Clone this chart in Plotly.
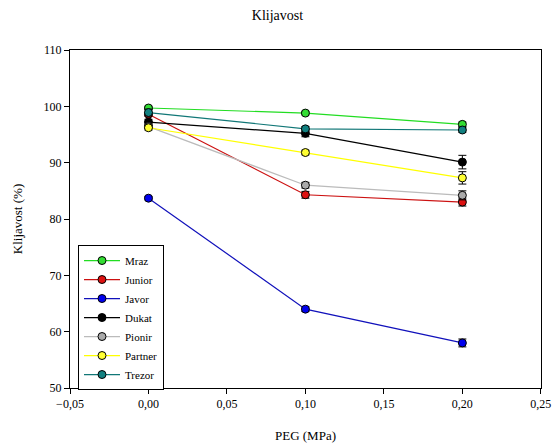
import plotly.graph_objects as go

# PEG concentration (MPa)
peg = [0.0, 0.1, 0.2]

# Germination (%) per variety, with standard errors
series = ["Mraz", "Junior", "Javor", "Dukat", "Pionir", "Partner", "Trezor"]
mraz = [99.7, 98.8, 96.8]
junior = [98.6, 84.3, 83.0]
javor = [83.7, 64.0, 58.0]
dukat = [97.2, 95.2, 90.1]
pionir = [96.4, 86.0, 84.2]
partner = [96.2, 91.8, 87.3]
trezor = [98.9, 96.0, 95.8]

mraz_err = [0.3, 0.3, 0.4]
junior_err = [0.3, 0.6, 0.7]
javor_err = [0.3, 0.4, 0.7]
dukat_err = [0.5, 0.6, 1.2]
pionir_err = [0.3, 0.5, 0.8]
partner_err = [0.4, 0.4, 1.1]
trezor_err = [0.6, 0.4, 0.4]

values = [mraz, junior, javor, dukat, pionir, partner, trezor]
errors = [mraz_err, junior_err, javor_err, dukat_err, pionir_err, partner_err, trezor_err]
colors = ["#22dd22", "#cc1111", "#1111bb", "#000000", "#bbbbbb", "#ffff00", "#117777"]
marker_fill = ["#33dd33", "#dd1111", "#0000ee", "#000000", "#aaaaaa", "#ffff33", "#118080"]

SERIF = "Liberation Serif, Times New Roman, serif"
tick_font = dict(family=SERIF, size=12, color="black")
title_font = dict(family=SERIF, size=13, color="black")

fig = go.Figure()
for name, y, e, c, mf in zip(series, values, errors, colors, marker_fill):
    fig.add_trace(go.Scatter(
        x=peg, y=y, name=name, mode="lines+markers",
        line=dict(color=c, width=1.2),
        marker=dict(size=8, color=mf, line=dict(color="black", width=1)),
        error_y=dict(type="data", array=e, visible=True, color="black",
                     thickness=1, width=4),
    ))

fig.update_layout(
    width=555, height=444,
    margin=dict(l=70, r=14, t=50, b=56),
    paper_bgcolor="white", plot_bgcolor="white",
    separators=",.",
    font=dict(family=SERIF, size=11, color="black"),
    title=dict(text="Klijavost", x=0.5, xanchor="center", y=0.965, yanchor="middle",
               font=dict(family=SERIF, size=14, color="black")),
    showlegend=True,
    legend=dict(x=0.017, y=0.423, xanchor="left", yanchor="top",
                bgcolor="white", bordercolor="black", borderwidth=1,
                font=dict(family=SERIF, size=11, color="black"),
                itemwidth=36, tracegroupgap=0),
    xaxis=dict(range=[-0.05, 0.2501], tickvals=[-0.05, 0, 0.05, 0.1, 0.15, 0.2, 0.25],
               tickformat=".2f", tickfont=tick_font, ticklabeloverflow="allow",
               showgrid=False, zeroline=False, showline=True, linecolor="black",
               linewidth=1, mirror=True, ticks="outside", ticklen=5,
               tickcolor="black", automargin=False,
               title=dict(text="PEG (MPa)", font=title_font, standoff=20)),
    yaxis=dict(range=[50, 110], dtick=10, tickfont=tick_font, showgrid=False,
               zeroline=False, showline=True, linecolor="black", linewidth=1,
               mirror=True, ticks="outside", ticklen=5, tickcolor="black",
               automargin=False,
               title=dict(text="Klijavost (%)", font=title_font, standoff=18)),
)

fig.write_html("out.html")
